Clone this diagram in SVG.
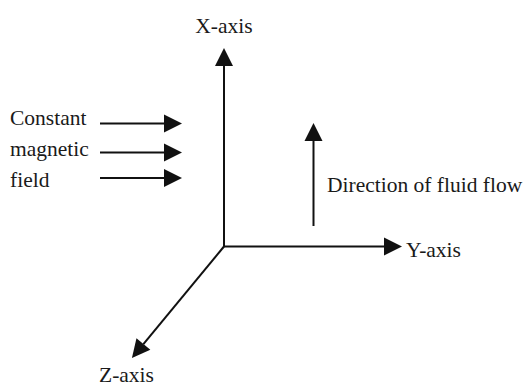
<svg xmlns="http://www.w3.org/2000/svg" width="523" height="387" viewBox="0 0 523 387">
  <style>
    .lbl { font-family: 'Liberation Serif', 'DejaVu Serif', 'Tinos', 'Times New Roman', Times, serif; font-size: 21.5px; fill: #1a1a1a; }
    .ln { stroke: #111; stroke-width: 2; fill: none; marker-end: url(#head); }
  </style>
  <defs>
    <marker id="head" markerUnits="userSpaceOnUse" markerWidth="18" markerHeight="18" refX="0" refY="9" orient="auto" overflow="visible">
      <path d="M0,0 L18,9 L0,18 z" fill="#111"/>
    </marker>
  </defs>
  <rect width="523" height="387" fill="#fff"/>

  <g id="connectors">
    <line id="x-axis-line" class="ln" x1="224" y1="247" x2="224" y2="66"/>
    <line id="y-axis-line" class="ln" x1="223" y1="246.5" x2="384" y2="246.5"/>
    <line id="z-axis-line" class="ln" x1="224" y1="246.5" x2="143.4" y2="344.1"/>
    <line id="field-1" class="ln" x1="100" y1="123.5" x2="164" y2="123.5"/>
    <line id="field-2" class="ln" x1="100" y1="152.5" x2="164" y2="152.5"/>
    <line id="field-3" class="ln" x1="100" y1="178" x2="164" y2="178"/>
    <line id="flow" class="ln" x1="313.5" y1="226" x2="313.5" y2="141"/>
  </g>

  <g id="x-axis"><text class="lbl" x="224" y="33" text-anchor="middle">X-axis</text></g>
  <g id="y-axis"><text class="lbl" x="406" y="257">Y-axis</text></g>
  <g id="z-axis"><text class="lbl" x="99" y="382">Z-axis</text></g>
  <g id="magnetic-field">
    <text class="lbl" x="10" y="125">Constant</text>
    <text class="lbl" x="10" y="156">magnetic</text>
    <text class="lbl" x="10" y="187">field</text>
  </g>
  <g id="fluid-flow"><text class="lbl" x="327" y="192">Direction of fluid flow</text></g>
</svg>
